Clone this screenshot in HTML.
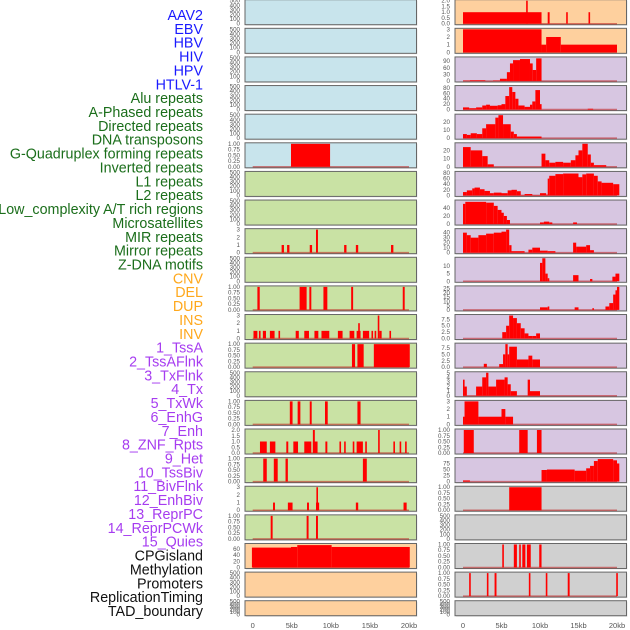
<!DOCTYPE html>
<html><head><meta charset="utf-8">
<style>
html,body{margin:0;padding:0;background:#fff;}
svg{display:block;font-family:"Liberation Sans",sans-serif;}
</style></head>
<body>
<svg id="chart" width="630" height="630" viewBox="0 0 630 630"></svg>
<script>
const labels = ["AAV2","EBV","HBV","HIV","HPV","HTLV-1","Alu repeats","A-Phased repeats","Directed repeats","DNA transposons","G-Quadruplex forming repeats","Inverted repeats","L1 repeats","L2 repeats","Low_complexity A/T rich regions","Microsatellites","MIR repeats","Mirror repeats","Z-DNA motifs","CNV","DEL","DUP","INS","INV","1_TssA","2_TssAFlnk","3_TxFlnk","4_Tx","5_TxWk","6_EnhG","7_Enh","8_ZNF_Rpts","9_Het","10_TssBiv","11_BivFlnk","12_EnhBiv","13_ReprPC","14_ReprPCWk","15_Quies","CPGisland","Methylation","Promoters","ReplicationTiming","TAD_boundary"];
const labelGroups = ["virus","virus","virus","virus","virus","virus","repeat","repeat","repeat","repeat","repeat","repeat","repeat","repeat","repeat","repeat","repeat","repeat","repeat","sv","sv","sv","sv","sv","chrom","chrom","chrom","chrom","chrom","chrom","chrom","chrom","chrom","chrom","chrom","chrom","chrom","chrom","chrom","other","other","other","other","other"];
const xTickValues = [0,5,10,15,20];
const xTickLabels = ["0","5kb","10kb","15kb","20kb"];
const TE = ["0","100","200","300","400","500"];
const T1 = ["0.00","0.25","0.50","0.75","1.00"];
const T2 = ["0.0","0.5","1.0","1.5","2.0"];
const T3 = ["0","1","2","3"];
const panelMax = [500,500,500,500,500,1,500,500,3,500,1,3,1,500,1,2,1,3,1,74,500,500,
  2,3,105,85,28,28,82,57,46,15,27,9,9,5,3,1,95,1,500,1,1,500];
const panelTicks = [TE,TE,TE,TE,TE,T1,TE,TE,T3,TE,T1,T3,T1,TE,T1,T2,T1,T3,T1,["0","20","40","60"],TE,TE,
  T2,T3,["0","30","60","90"],["0","20","40","60","80"],["0","10","20"],["0","10","20"],["0","20","40","60","80"],["0","20","40"],["0","10","20","30","40"],["0","5","10"],["0","5","10","15","20","25"],["0.0","2.5","5.0","7.5"],["0.0","2.5","5.0","7.5"],["0","1","2","3","4","5"],T3,T1,["0","25","50","75"],T1,TE,T1,T1,TE];
const panelSegs = [
 [],[],[],[],[],
 [[4.9,9.9,1]],
 [],[],
 [[3.7,4.0,1],[4.4,4.7,1],[7.3,7.6,1],[8.1,8.35,3],[11.7,12.0,1],[13.2,13.5,1],[17.7,18.0,1]],
 [],
 [[0.6,0.9,1],[6.0,6.9,1],[7.25,7.5,1],[9.05,9.55,1],[12.6,12.85,1],[19.2,19.45,1]],
 [[0.1,0.6,1],[0.8,0.95,1],[1.3,1.7,1],[2.2,2.8,1],[3.3,3.45,1],[5.5,5.9,1],[6.6,7.2,1],[7.9,8.4,1],[8.8,9.8,1],[10.9,11.5,1],[12.4,13.0,1],[13.3,13.8,1],[13.5,13.65,2],[14.1,14.9,1],[15.2,15.35,1],[15.6,15.75,1],[16.0,16.12,3],[16.2,16.5,1],[17.5,17.65,1]],
 [[12.7,13.1,1],[13.4,14.2,1],[15.5,20.1,1]],
 [],
 [[4.75,5.1,1],[5.75,6.1,1],[7.3,7.55,1],[9.25,9.6,1],[13.4,13.8,1]],
 [[0.93,1.8,1],[2.2,2.9,1],[4.3,4.55,1],[5.2,5.8,1],[6.6,7.5,1],[7.7,8.3,1],[7.7,7.95,2],[9.3,9.55,1],[11.1,11.3,1],[11.7,11.9,1],[12.8,13.0,1],[13.3,14.1,1],[14.4,14.6,1],[16.05,16.25,2],[18.0,18.2,1],[18.8,19.0,1],[19.5,19.7,1]],
 [[1.35,1.8,1],[2.7,3.2,1],[4.2,4.5,1],[14.1,14.6,1]],
 [[2.6,2.85,1],[4.5,5.1,1],[6.95,7.2,1],[8.1,8.5,1],[8.15,8.35,3],[13.2,13.5,1],[19.3,19.7,1]],
 [[2.3,2.55,1],[6.9,7.15,1],[8.1,8.35,1]],
 [[-0.1,4.9,64],[4.9,5.7,66],[5.7,10.1,72],[10.1,20.1,66]],
 [],[],
 [[0,10.2,1],[8.2,8.4,2],[11.0,11.25,1],[13.4,13.6,1],[16.3,16.5,1]],
 [[0,10.2,3],[10.2,10.8,1],[10.8,12.7,2],[12.7,20,1]],
 [[0,0.9,1.5],[0.9,2.9,3],[3.9,4.8,2],[4.8,5.7,10],[5.7,6.1,40],[6.1,6.5,80],[6.5,7.4,95],[7.4,8.7,100],[8.7,9.05,80],[9.05,9.5,50],[9.5,10.2,103]],
 [[0,0.8,8],[0.8,1.7,5],[1.7,2.5,8],[2.5,3,15],[3,3.5,18],[3.5,4.5,14],[4.5,5,16],[5,5.5,20],[5.5,6,50],[6,6.4,83],[6.4,6.8,65],[6.8,7.2,40],[7.2,8,15],[8,8.7,10],[8.7,9,18],[9,9.4,30],[9.4,10,72],[10,10.2,20],[16.2,16.9,3]],
 [[0,0.5,5],[0.5,1,4],[1,1.8,6],[1.8,2.5,5],[2.5,3,12],[3,4.2,17],[4.2,4.6,25],[4.6,5.2,28],[5.2,6.2,17],[6.2,6.6,8],[6.6,7,5],[7,10.2,2]],
 [[0,1,24],[1,2.5,20],[2.5,3.2,13],[3.2,4,3],[10.2,10.7,16],[10.7,11.2,8],[11.2,12,5],[12,13,6],[13,14,5],[14,14.6,8],[14.6,15,14],[15,15.5,20],[15.5,16.2,28],[16.2,16.6,15],[16.6,17,5],[17,18.6,2]],
 [[0,0.5,12],[0.5,1.2,18],[1.2,1.5,25],[1.5,2.2,28],[2.2,2.8,22],[2.8,3.5,16],[3.5,4,8],[4,5,10],[5,5.8,8],[5.8,6.3,18],[6.3,7,20],[7,7.5,15],[7.5,8,1],[8,9,5],[9,10,1],[10,10.8,8],[10.8,11,3],[11,11.2,60],[11.2,12,70],[12,13,76],[13,15,78],[15,15.5,65],[15.5,16,75],[16,17,78],[17,17.5,70],[17.5,18,50],[18,19.5,45],[19.5,20.3,40]],
 [[0,0.3,50],[0.3,3,55],[3,4,53],[4,4.5,45],[4.5,5,35],[5,5.3,28],[5.3,5.7,20],[5.7,6.1,10],[10,10.5,4],[10.5,11.2,6],[11.2,11.6,4],[14.3,14.8,4]],
 [[0,0.5,40],[0.5,1,35],[1,2,30],[2,3,35],[3,4,38],[4,5,40],[5,5.6,42],[5.6,6,46],[6,6.3,15],[6.3,8,3],[8.5,9,6],[9,10,10],[10,11,4],[11,12,3],[14.3,14.7,20],[14.7,16,12],[16,16.5,15],[16.5,17,5]],
 [[10,10.3,12],[10.3,10.7,15],[10.7,11,5],[11,11.2,2],[14.3,15,4],[16.5,16.8,1.5],[19.4,19.8,3],[19.8,20.3,5]],
 [[10,11,3],[11,11.2,4],[14.5,15,3],[16.8,17,2],[18.5,19,4],[19,19.5,8],[19.5,19.8,18],[19.8,20,23],[20,20.3,27]],
 [[5.1,5.6,2.5],[5.6,6.0,5],[6.0,6.5,9],[6.5,7,8],[7,7.5,6],[7.5,8,4],[8,8.5,2],[8.5,9,1],[9,9.5,1],[9.5,10,2]],
 [[2.7,3.1,1.3],[4.7,5.2,1.2],[5.2,5.5,5],[5.5,5.8,9],[5.8,6,5],[6,7,8],[7,8.5,3],[8.5,9,4.5],[9,10,3]],
 [[0,0.2,3.5],[0.2,0.5,2],[1.7,2.5,2],[2.5,3,4],[3,3.3,5],[3.3,4.3,2],[4.3,5.4,3.5],[5.4,5.8,4],[5.8,6.2,2.5],[6.2,7,1],[8.4,8.7,3.5],[8.7,10,1]],
 [[0,0.2,1],[0.2,2,3],[2,5,1],[5,5.5,2],[5.5,6.5,1]],
 [[0.1,1.4,1],[7.3,8.4,1],[9.6,10.2,1]],
 [[0,0.9,5],[10.2,10.9,48],[10.9,14.5,50],[14.5,16,45],[16,16.5,55],[16.5,17,65],[17,17.5,85],[17.5,19.5,93],[19.5,20,88],[20,20.3,75]],
 [[6,10.2,1]],
 [],
 [[5.1,5.3,1],[6.6,7.0,1],[7.3,7.5,1],[7.7,8.1,1],[8.3,8.8,1],[9.9,10.2,1]],
 [[0.8,0.95,1],[3.1,3.25,1],[4.1,4.35,1],[8.55,8.75,1],[10.75,10.95,1],[13.6,13.85,1],[19.9,20.05,1]],
 []
];
const leftBg = ["#c8e4ec","#c8e4ec","#c8e4ec","#c8e4ec","#c8e4ec","#c8e4ec","#c9e2a4","#c9e2a4","#c9e2a4","#c9e2a4","#c9e2a4","#c9e2a4","#c9e2a4","#c9e2a4","#c9e2a4","#c9e2a4","#c9e2a4","#c9e2a4","#c9e2a4","#fed09e","#fed09e","#fed09e"];
const rightBg = ["#fed09e","#fed09e","#d7c6e1","#d7c6e1","#d7c6e1","#d7c6e1","#d7c6e1","#d7c6e1","#d7c6e1","#d7c6e1","#d7c6e1","#d7c6e1","#d7c6e1","#d7c6e1","#d7c6e1","#d7c6e1","#d7c6e1","#d0d0d0","#d0d0d0","#d0d0d0","#d0d0d0","#d0d0d0"];

const NS="http://www.w3.org/2000/svg";
const svg=document.getElementById('chart');
function mk(tag,attrs,parent){const e=document.createElementNS(NS,tag);for(const k in attrs)e.setAttribute(k,attrs[k]);(parent||svg).appendChild(e);return e;}
const groupColor={virus:"#1a1aff",repeat:"#1b6e1b",sv:"#ffa81c",chrom:"#a63cf0",other:"#111"};
labels.forEach((t,i)=>{
  const e=mk('text',{x:203,y:15+i*13.86+5,'text-anchor':'end','font-size':'14.3',fill:groupColor[labelGroups[i]]});
  e.textContent=t;
  
  
});
const cols=[{bx:245,bw:171.5,x0:252.7,x20:409,tx:240,bg:leftBg},{bx:455,bw:171.5,x0:463,x20:617,tx:450,bg:rightBg}];
for(let p=0;p<44;p++){
  const c=cols[p<22?0:1]; const r=p%22;
  const top=-0.3+r*28.62; const h=(r===21)?15:25;
  const g=mk('g',{});
  
  
  mk('rect',{x:c.bx+1,y:top+1,width:c.bw,height:h,fill:'#e6e6e6'},g);
  mk('rect',{x:c.bx,y:top,width:c.bw,height:h,fill:c.bg[r],stroke:'#666','stroke-width':1},g);
  const y0=top+h-1, y1=top+1, ymax=panelMax[p];
  const ys=v=>y0-(v/ymax)*(y0-y1);
  const xs=k=>c.x0+k*(c.x20-c.x0)/20;
  const segs=panelSegs[p];
  if(segs.length){
    const bl=mk('line',{x1:xs(0),x2:xs(20),y1:y0,y2:y0,stroke:'rgba(190,30,30,0.55)','stroke-width':1.5},g);
    
    
  }
  segs.forEach(s=>{
    const x=Math.max(xs(s[0]),c.bx+0.5), xe=Math.min(xs(s[1]),c.bx+c.bw-0.5);
    const b=mk('rect',{x:x,y:ys(s[2]),width:Math.max(xe-x,1.6),height:y0-ys(s[2]),fill:'#ff0000'},g);
    
    
  });
  const tk=panelTicks[p];
  tk.forEach(t=>{
    const e=mk('text',{x:c.tx,y:ys(parseFloat(t))+2,'text-anchor':'end','font-size':'6.2',fill:'#555'},g);
    e.textContent=t;
    
    
  });
}
cols.forEach((c,ci)=>{
  xTickValues.forEach((v,i)=>{
    const e=mk('text',{x:c.x0+v*(c.x20-c.x0)/20,y:628,'text-anchor':'middle','font-size':'7.5',fill:'#555'});
    e.textContent=xTickLabels[i];
    
    
  });
});
</script>
</body></html>
